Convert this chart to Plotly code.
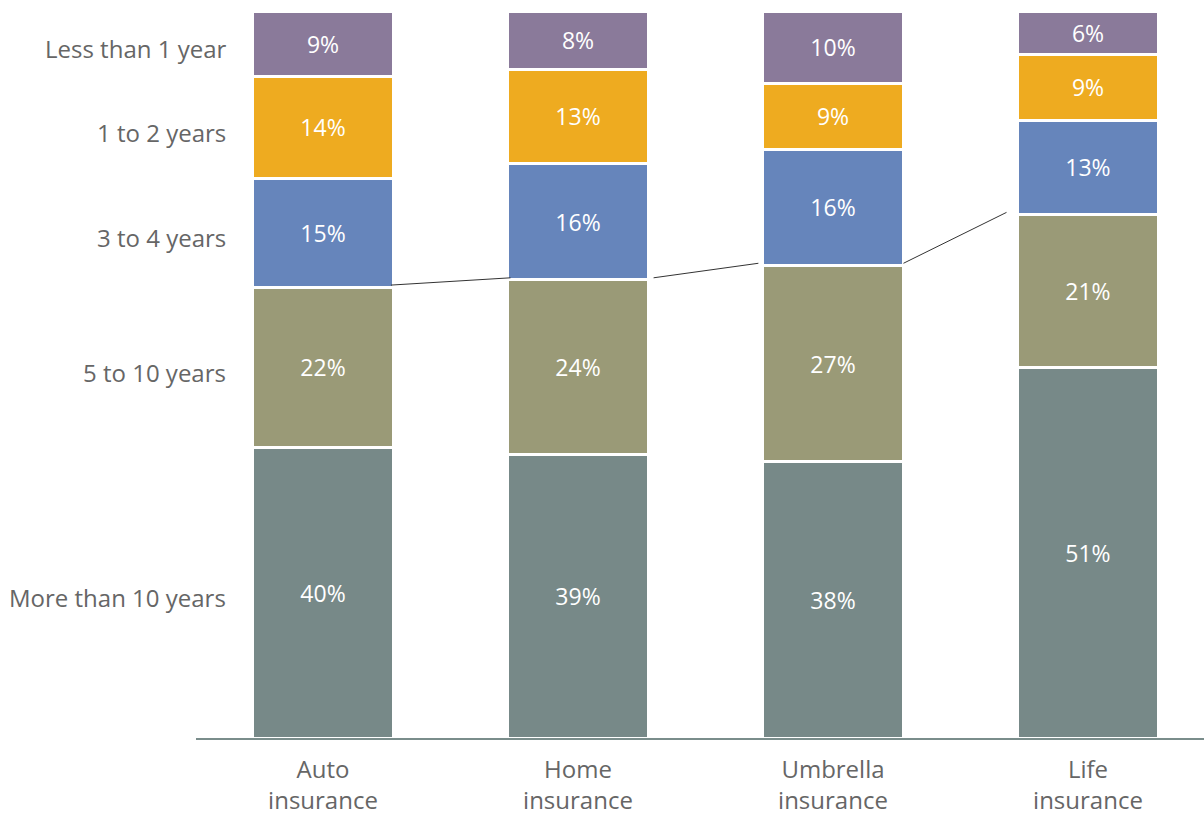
import plotly.graph_objects as go

# Policy types (x categories)
categories = ["Auto<br>insurance", "Home<br>insurance", "Umbrella<br>insurance", "Life<br>insurance"]

# Tenure groups, stacked bottom to top
tenure_groups = ["More than 10 years", "5 to 10 years", "3 to 4 years", "1 to 2 years", "Less than 1 year"]

# Share of customers (%) per tenure group
more_than_10 = [40, 39, 38, 51]
five_to_10 = [22, 24, 27, 21]
three_to_4 = [15, 16, 16, 13]
one_to_2 = [14, 13, 9, 9]
less_than_1 = [9, 8, 10, 6]

series = [more_than_10, five_to_10, three_to_4, one_to_2, less_than_1]
colors = ["#778988", "#9a9a77", "#6685bb", "#eeab20", "#8a7a9a"]

FONT = "Open Sans"
GRAY_TEXT = "#666666"
BAR_WIDTH = 0.553
x_pos = list(range(len(categories)))

fig = go.Figure()
for name, vals, col in zip(tenure_groups, series, colors):
    fig.add_trace(go.Bar(
        x=x_pos, y=vals, name=name,
        width=BAR_WIDTH,
        marker=dict(color=col, line=dict(color="white", width=3)),
        text=[f"{v}%" for v in vals],
        textposition="inside",
        insidetextanchor="middle",
        textangle=0,
        textfont=dict(family=FONT, size=23, color="white"),
        hoverinfo="skip",
    ))

# Connector lines tracing the top of the "5 to 10 years" segment,
# with small gaps next to the bars
tops = [a + b for a, b in zip(more_than_10, five_to_10)]
start_gap = [0.0, 0.03, 0.01]
end_gap = [-0.012, 0.016, 0.043]
for i in range(len(categories) - 1):
    fig.add_shape(
        type="line", xref="x", yref="y",
        x0=x_pos[i] + BAR_WIDTH / 2 - 0.01 + start_gap[i], y0=tops[i] + 0.3,
        x1=x_pos[i + 1] - BAR_WIDTH / 2 - end_gap[i], y1=tops[i + 1] + 0.3,
        line=dict(color="#333333", width=1),
        layer="above",
    )

# Tenure labels next to the first bar, at each segment's middle
cum = 0
for name, vals in zip(tenure_groups, series):
    mid = cum + vals[0] / 2
    cum += vals[0]
    fig.add_annotation(
        x=-0.3725, y=mid, xref="x", yref="y",
        text=name, showarrow=False,
        xanchor="right", yanchor="middle", yshift=-5,
        font=dict(family=FONT, size=24, color=GRAY_TEXT),
    )

fig.update_layout(
    barmode="stack",
    width=1204, height=816,
    margin=dict(l=196, r=0, t=11, b=78),
    paper_bgcolor="white", plot_bgcolor="white",
    showlegend=False,
    uniformtext=dict(minsize=22, mode="show"),
    xaxis=dict(
        range=[-0.498, 3.455],
        tickmode="array", tickvals=x_pos, ticktext=categories,
        tickfont=dict(family=FONT, size=24, color=GRAY_TEXT),
        ticklabelstandoff=9,
        showline=True, linecolor="#7a8d8b", linewidth=2,
        showgrid=False, zeroline=False, ticks="",
        fixedrange=True,
    ),
    yaxis=dict(
        range=[0, 100], visible=False, showgrid=False, zeroline=False,
        fixedrange=True,
    ),
)

fig.write_html("out.html")
